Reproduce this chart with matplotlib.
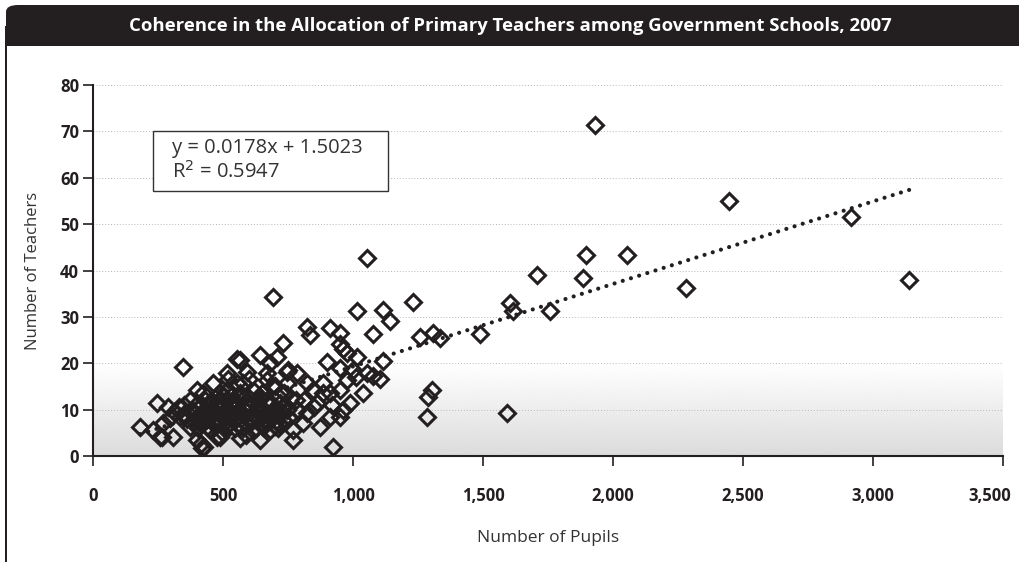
import matplotlib
matplotlib.use("Agg")
import matplotlib.pyplot as plt
import matplotlib.transforms as mtransforms
from matplotlib.patches import FancyBboxPatch, Rectangle
import numpy as np

plt.rcParams['font.family'] = ['Open Sans', 'DejaVu Sans']

# Schools: pupils and teachers
pupils = [
    1930, 2445, 2915, 3140, 2281, 2054, 1896, 1885, 1708, 1604, 1615, 1758, 1488, 1592,
    1054, 692, 1231, 1015, 1115, 1142, 1077, 1258, 1308, 1335,
    823, 911, 835, 950, 731, 962, 950, 977, 1015, 1115, 1038, 1104, 1054, 1077, 1304, 1288, 1285,
    923, 950, 912, 346, 181, 246, 258, 308, 419, 400, 488, 565, 642, 769,
    554, 565, 642, 708, 681, 750, 900, 950, 785, 515, 592, 669, 746,
    577, 669, 746, 823, 885, 912, 950, 885, 862, 785, 823, 873, 769, 538, 631, 719, 692, 604,
    654, 731, 808, 846, 977,
    288, 296, 231, 265, 400, 462, 488, 373, 423, 515, 554, 373, 438, 477, 488, 335, 269,
    350, 380, 410, 420, 440, 450, 470, 480, 500, 510, 520, 530, 545, 560, 570, 580, 590, 600,
    615, 625, 640, 660, 670, 680, 700, 710, 720, 740, 755, 390, 430, 455, 500, 530, 620, 590,
    700, 760, 350, 310, 400, 470, 560, 650, 520, 600, 700, 810, 850, 920, 960, 990, 1010, 1000,
    414, 425,
    360, 395, 445, 465, 495, 525, 548, 575, 610, 635, 665, 690, 725, 600, 640, 455, 505, 545,
    585, 675, 705, 735, 780, 330, 415, 560, 615, 690,
    405, 435, 475, 515, 555, 595, 630, 655, 685, 715, 745, 425, 485, 535, 575, 625, 665, 710,
    445, 505, 565, 645, 725, 390, 470,
]
teachers = [
    71.3, 55.0, 51.5, 38.0, 36.3, 43.4, 43.4, 38.4, 39.0, 33.0, 31.2, 31.2, 26.3, 9.3,
    42.7, 34.2, 33.3, 31.3, 31.4, 29.1, 26.2, 25.6, 26.5, 25.4,
    27.8, 27.7, 26.0, 26.5, 24.3, 23.0, 24.2, 22.2, 21.3, 20.4, 13.6, 16.5, 17.9, 17.2, 14.2, 12.7, 8.4,
    1.9, 8.4, 8.4, 19.2, 6.2, 11.5, 4.1, 4.1, 1.8, 3.4, 4.0, 3.8, 3.4, 3.4,
    21.0, 20.6, 21.8, 21.3, 20.0, 18.5, 20.3, 19.0, 17.9, 17.9, 18.1, 18.0, 18.1,
    15.7, 16.4, 15.7, 15.7, 15.7, 13.6, 14.2, 13.6, 11.4, 9.9, 9.3, 6.3, 5.6, 11.4, 12.0, 11.4, 8.4, 8.4,
    6.3, 7.8, 7.1, 14.2, 16.4,
    10.6, 8.2, 5.6, 4.1, 14.2, 15.7, 13.6, 12.0, 13.6, 14.2, 15.7, 6.3, 6.3, 4.1, 7.8, 8.4, 7.1,
    9.0, 10.0, 9.0, 11.0, 8.0, 10.0, 9.5, 11.0, 9.0, 12.0, 7.0, 9.5, 6.0, 10.0, 8.0, 12.5, 7.0, 10.5,
    9.0, 6.0, 11.0, 9.5, 12.0, 5.5, 10.0, 13.0, 9.0, 11.0, 8.5, 7.5, 12.0, 5.5, 5.0, 13.0, 14.0, 4.5,
    6.5, 12.5, 11.0, 9.5, 8.0, 12.5, 12.5, 13.5, 16.5, 16.5, 15.0, 12.0, 10.5, 11.0, 10.0, 11.5, 17.0, 18.5,
    2.5, 2.0,
    8.0, 11.0, 9.0, 7.0, 10.5, 8.5, 11.5, 9.0, 7.5, 10.0, 8.0, 9.0, 10.5, 12.5, 8.0, 11.5, 13.0, 8.0,
    10.0, 11.0, 7.5, 13.5, 12.0, 10.5, 7.0, 6.5, 5.5, 15.0,
    6.0, 9.5, 7.0, 6.5, 9.5, 11.0, 8.5, 7.0, 11.5, 7.0, 10.0, 7.5, 12.0, 10.5, 6.0, 10.0, 9.0, 6.0,
    11.5, 8.0, 13.5, 12.5, 9.5, 9.0, 8.0,
]

# Linear trend
slope = 0.0178
intercept = 1.5023
r_squared = 0.5947

x_ticks = [0, 500, 1000, 1500, 2000, 2500, 3000, 3500]
x_tick_labels = ['0', '500', '1,000', '1,500', '2,000', '2,500', '3,000', '3,500']
y_ticks = [0, 10, 20, 30, 40, 50, 60, 70, 80]

ink = '#231f20'

fig = plt.figure(figsize=(10.2, 5.62), dpi=100)

# title bar (rounded top-left only) and left frame line
bar = FancyBboxPatch((6 / 1020, 1 - 46 / 562), 1.2, 41 / 562,
                     boxstyle='round,pad=0,rounding_size=0.012',
                     transform=fig.transFigure, facecolor=ink, edgecolor='none')
fig.patches.append(bar)
fig.patches.append(Rectangle((5 / 1020, 1 - 46 / 562), 1.2, 20 / 562,
                             transform=fig.transFigure, facecolor=ink, edgecolor='none'))
fig.patches.append(Rectangle((5 / 1020, 0), 2.4 / 1020, 1 - 40 / 562,
                             transform=fig.transFigure, facecolor=ink, edgecolor='none'))
fig.text(0.5, 1 - 26 / 562,
         'Coherence in the Allocation of Primary Teachers among Government Schools, 2007',
         color='white', fontsize=13.3, fontweight='bold', ha='center', va='center')

ax = fig.add_axes([93 / 1020, 1 - 456 / 562, 910 / 1020, 371 / 562])
ax.set_xlim(0, 3500)
ax.set_ylim(0, 80)

# shaded band behind the low values
grad = np.linspace(0.86, 1.0, 256).reshape(-1, 1)
ax.imshow(grad, extent=[0, 3500, 0, 20], origin='lower', cmap='gray',
          vmin=0, vmax=1, aspect='auto', zorder=0)

for v in y_ticks[1:]:
    ax.axhline(v, color='#b8b8b8', linewidth=0.7, linestyle=(0, (1, 2)), zorder=1)

xl = np.linspace(min(pupils), max(pupils), 200)
ax.plot(xl, slope * xl + intercept, color=ink, linewidth=3.0,
        linestyle=(0, (0.01, 2.05)), dash_capstyle='round', zorder=3)

ax.plot(pupils, teachers, linestyle='none', marker='D', markersize=8.3,
        markerfacecolor='none', markeredgecolor=ink, markeredgewidth=2.2, zorder=4)

for side in ['top', 'right']:
    ax.spines[side].set_visible(False)
for side in ['left', 'bottom']:
    ax.spines[side].set_color(ink)
    ax.spines[side].set_linewidth(1.5)

ax.set_xticks(x_ticks)
ax.set_xticklabels(x_tick_labels)
ax.set_yticks(y_ticks)
ax.tick_params(axis='both', direction='out', length=7, width=1.2, color=ink,
               labelsize=12, labelcolor=ink)
ax.tick_params(axis='x', pad=15)
ax.tick_params(axis='y', pad=3)
for lab in ax.get_xticklabels() + ax.get_yticklabels():
    lab.set_fontweight('bold')
last = ax.get_xticklabels()[-1]
last.set_transform(last.get_transform() + mtransforms.ScaledTranslation(-13 / 100, 0, fig.dpi_scale_trans))

ax.set_xlabel('Number of Pupils', fontsize=12.5, color='#333333', labelpad=18)
ax.set_ylabel('Number of Teachers', fontsize=12, color='#333333', labelpad=14)

ax.add_patch(Rectangle((0.066, 0.713), 0.258, 0.162, transform=ax.transAxes,
                       facecolor='white', edgecolor='#333333', linewidth=1.0, zorder=5))
ax.text(0.087, 0.797, f'y = {slope}x + {intercept}\nR$^2$ = {r_squared}',
        transform=ax.transAxes, fontsize=14.5, color='#333333', va='center', ha='left',
        linespacing=1.2, zorder=6)

fig.savefig('out.png', dpi=100)
